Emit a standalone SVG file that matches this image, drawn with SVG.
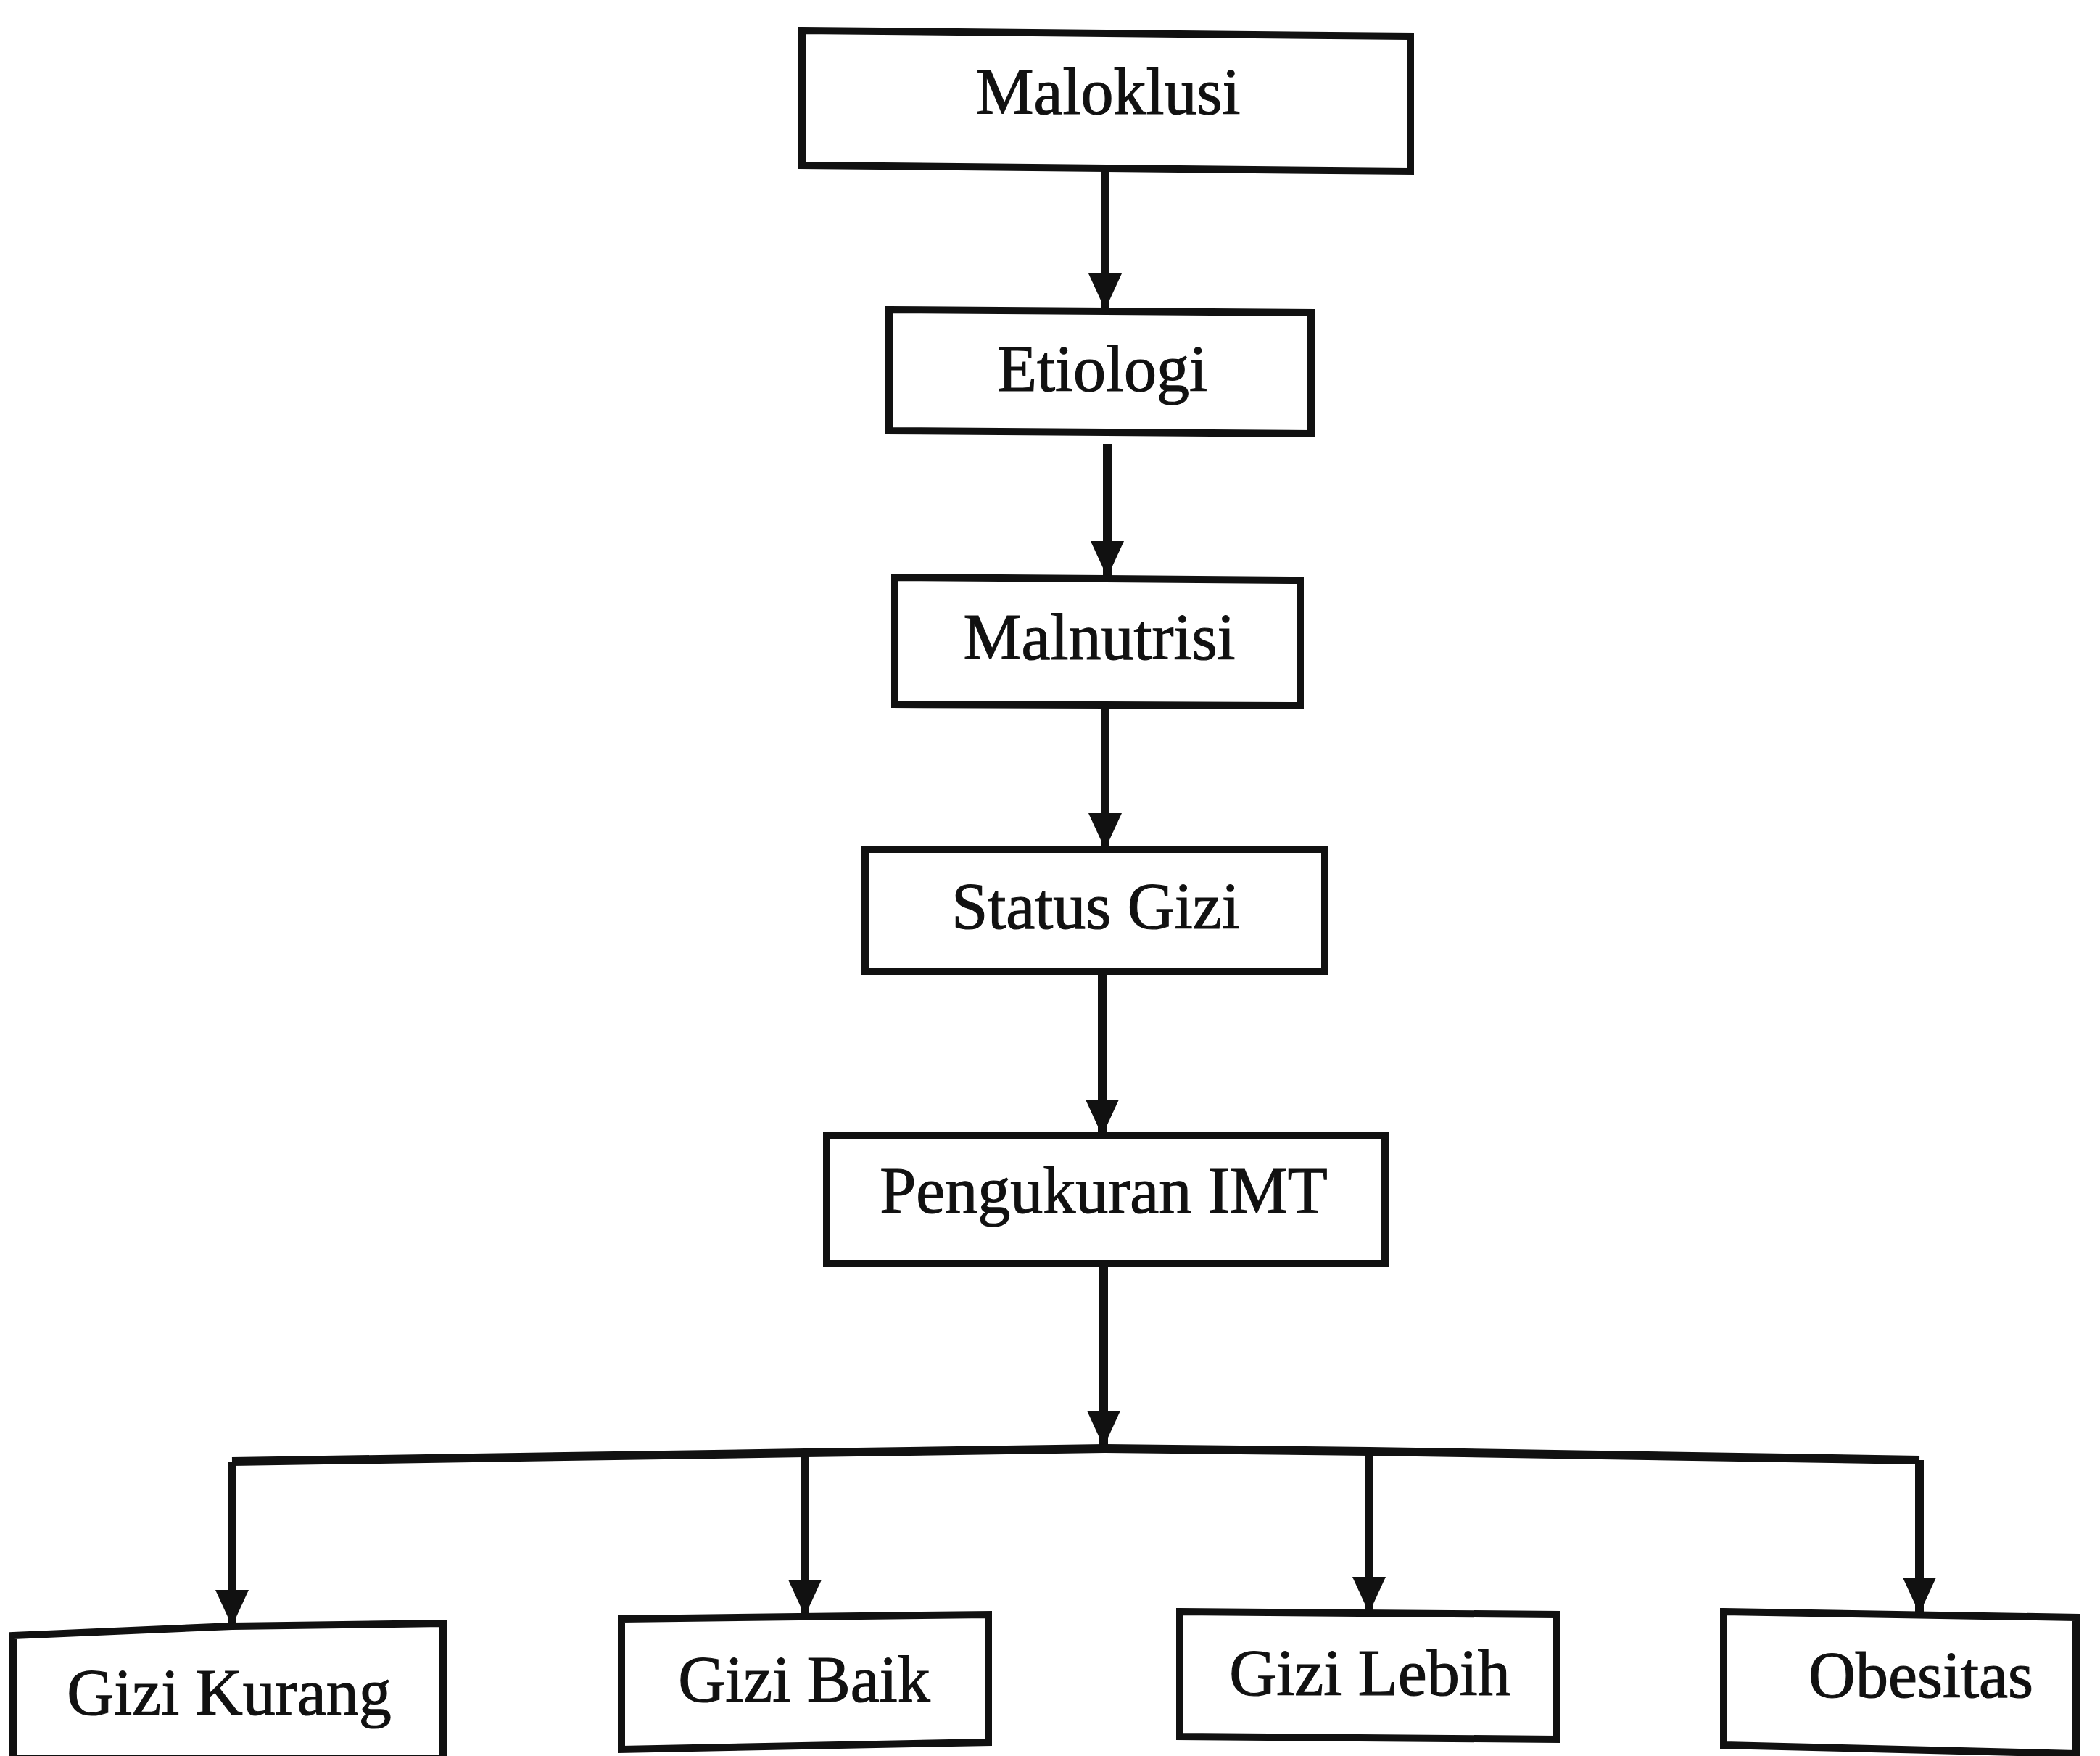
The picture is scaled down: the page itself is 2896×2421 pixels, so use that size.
<svg xmlns="http://www.w3.org/2000/svg" width="2896" height="2421" viewBox="0 0 2896 2421">
<style>
.box{fill:#ffffff;stroke:#111111;stroke-width:10}
.lbl{font-family:"Liberation Serif","Times New Roman",serif;font-size:90px;fill:#111111;stroke:#111111;stroke-width:1.2;text-anchor:middle}
.con{fill:none;stroke:#111111;stroke-width:12}
</style>
<defs>
<marker id="ah" markerUnits="userSpaceOnUse" viewBox="0 0 50 46" markerWidth="50" markerHeight="46" refX="50" refY="23" orient="auto">
<path d="M0,0 L50,23 L0,46 z" fill="#111111"/>
</marker>
</defs>
<rect width="2896" height="2421" fill="#ffffff"/>
<g id="connectors">
<line class="con" x1="1524" y1="236" x2="1524" y2="427" marker-end="url(#ah)"/>
<line class="con" x1="1527" y1="612" x2="1527" y2="796" marker-end="url(#ah)"/>
<line class="con" x1="1524" y1="975" x2="1524" y2="1171" marker-end="url(#ah)"/>
<line class="con" x1="1520" y1="1341" x2="1520" y2="1566" marker-end="url(#ah)"/>
<line class="con" x1="1522" y1="1744" x2="1522" y2="1995" marker-end="url(#ah)"/>
<polyline class="con" points="320,2015 1110,2003 1523,1997 1888,2001 2647,2013"/>
<line class="con" x1="320" y1="2015" x2="320" y2="2242" marker-end="url(#ah)"/>
<line class="con" x1="1110" y1="2003" x2="1110" y2="2228" marker-end="url(#ah)"/>
<line class="con" x1="1888" y1="2001" x2="1888" y2="2224" marker-end="url(#ah)"/>
<line class="con" x1="2647" y1="2013" x2="2647" y2="2225" marker-end="url(#ah)"/>
</g>
<g id="maloklusi">
<polygon class="box" points="1106,42 1945,50 1945,236 1106,228"/>
<text class="lbl" x="1528" y="157">Maloklusi</text>
</g>
<g id="etiologi">
<polygon class="box" points="1226,427 1808,431 1808,598 1226,594"/>
<text class="lbl" x="1520" y="539">Etiologi</text>
</g>
<g id="malnutrisi">
<polygon class="box" points="1234,796 1793,800 1793,973 1234,971"/>
<text class="lbl" x="1516" y="909">Malnutrisi</text>
</g>
<g id="status-gizi">
<rect class="box" x="1193" y="1171" width="634" height="168"/>
<text class="lbl" x="1511" y="1280">Status Gizi</text>
</g>
<g id="pengukuran-imt">
<rect class="box" x="1140" y="1566" width="770" height="176"/>
<text class="lbl" x="1522" y="1672">Pengukuran IMT</text>
</g>
<g id="gizi-kurang">
<polygon class="box" points="18,2255 320,2242 611,2238 611,2425 18,2425"/>
<text class="lbl" x="316" y="2364">Gizi Kurang</text>
</g>
<g id="gizi-baik">
<polygon class="box" points="857,2232 1363,2226 1363,2402 857,2412"/>
<text class="lbl" x="1109" y="2346">Gizi Baik</text>
</g>
<g id="gizi-lebih">
<polygon class="box" points="1627,2222 2146,2226 2146,2398 1627,2394"/>
<text class="lbl" x="1889" y="2337">Gizi Lebih</text>
</g>
<g id="obesitas">
<polygon class="box" points="2377,2222 2863,2230 2863,2418 2377,2406"/>
<text class="lbl" x="2649" y="2340">Obesitas</text>
</g>
</svg>
